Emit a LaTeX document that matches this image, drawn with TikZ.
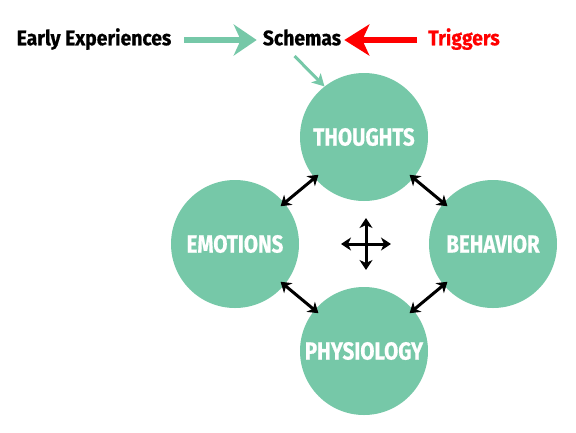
\documentclass[tikz,border=0pt]{standalone}
\usepackage{fontspec}
\usepackage{tikz}
\usetikzlibrary{arrows.meta}
\newfontfamily\cuefont[FakeStretch=0.92,FakeBold=0.6]{Fira Sans}
\newfontfamily\bubblefont[FakeStretch=0.83,FakeBold=0.6]{Fira Sans}
\definecolor{calmteal}{RGB}{118,200,168}
\definecolor{triggerred}{RGB}{255,0,0}
\tikzset{
  bubble/.style={circle, fill=calmteal, minimum size=128pt, inner sep=0pt, text=white,
    font=\bubblefont\bfseries\fontsize{24.7}{25}\selectfont},
  cue/.style={inner sep=3pt, text height=14.5pt, text depth=4pt,
    font=\cuefont\bfseries\fontsize{21}{21}\selectfont},
  flow/.style={draw=calmteal, line width=5.5pt, -{Stealth[length=23pt,width=31pt,inset=7pt]}},
  pull/.style={draw=triggerred, line width=5.5pt, -{Stealth[length=25pt,width=31pt,inset=7pt]}},
  feed/.style={draw=calmteal, line width=3pt, -{Stealth[length=12pt,width=13pt,inset=3pt]}},
  both/.style={draw=black, line width=3pt,
    {Stealth[length=10pt,width=13pt,inset=3pt]}-{Stealth[length=10pt,width=13pt,inset=3pt]}}
}
\begin{document}
\begin{tikzpicture}[x=1pt, y=-1pt]

  \useasboundingbox (0,0) rectangle (576,432);

  %% top row
  \node[cue] (early) at (94,40) {Early Experiences};
  \node[cue] (schemas) at (302,40) {Schemas};
  \node[cue, text=triggerred] (triggers) at (464,40) {Triggers};

  %% the four circles
  \node[bubble] (thoughts) at (364,137) {THOUGHTS};
  \node[bubble] (emotions) at (235,244) {EMOTIONS};
  \node[bubble] (behavior) at (493,244) {BEHAVIOR};
  \node[bubble] (physiology) at (364,351) {PHYSIOLOGY};
  \coordinate (hub) at (366,244);

  \draw[flow, shorten <=10pt, shorten >=3pt] (early) -- (schemas); % early -> schemas
  \draw[pull, shorten <=8pt] (triggers) -- (schemas); % triggers -> schemas
  \draw[feed, shorten <=5pt] ([xshift=-11pt]schemas.south) -- (thoughts.128); % schemas -> thoughts

  \draw[both, shorten <=-5pt, shorten >=-5pt] (emotions) -- (thoughts);
  \draw[both, shorten <=-5pt, shorten >=-5pt] (thoughts) -- (behavior);
  \draw[both, shorten <=-5pt, shorten >=-5pt] (emotions) -- (physiology);
  \draw[both, shorten <=-5pt, shorten >=-5pt] (physiology) -- (behavior);

  %% centre cross
  \draw[both] ([xshift=-25pt]hub) -- ([xshift=25pt]hub);
  \draw[both] ([yshift=-26pt]hub) -- ([yshift=26pt]hub);

\end{tikzpicture}
\end{document}
